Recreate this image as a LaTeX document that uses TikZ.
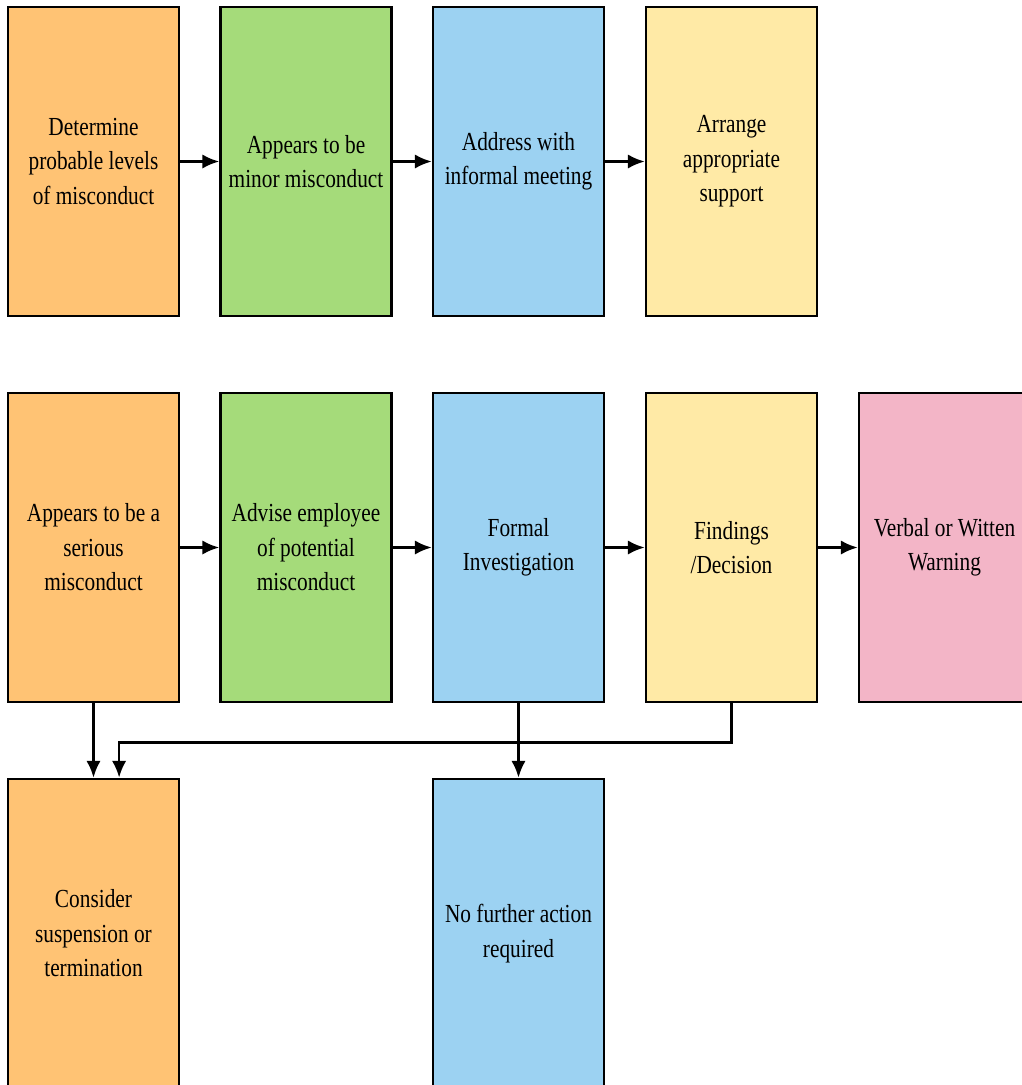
\documentclass[tikz,border=0pt]{standalone}
\usepackage{fontspec}
\setmainfont{Liberation Serif}[FakeStretch=0.82]
\usepackage{tikz}
\usetikzlibrary{arrows.meta,positioning,calc}
\usepackage{xcolor}

\definecolor{boxorange}{RGB}{255,195,116}
\definecolor{boxgreen}{RGB}{165,219,122}
\definecolor{boxblue}{RGB}{156,210,242}
\definecolor{boxyellow}{RGB}{255,234,166}
\definecolor{boxpink}{RGB}{243,181,199}

\begin{document}
\begin{tikzpicture}[x=0.025cm, y=-0.025cm,
    stagebox/.style={draw, line width=1.9pt, minimum width=4.275cm, minimum height=7.725cm,
                     align=center, inner sep=0pt, font=\fontsize{18.5}{24.5}\selectfont},
    flow/.style={line width=1.8pt, -{Latex[length=4.2mm,width=3.6mm]}}]
  \useasboundingbox (0,0) rectangle (1021,1085);

  % first row: minor misconduct
  \node[stagebox, fill=boxorange] (det) at (93.5,161.5) {Determine\\probable levels\\of misconduct};
  \node[stagebox, fill=boxgreen] (minor) at (306,161.5) {Appears to be\\minor misconduct};
  \node[stagebox, fill=boxblue] (informal) at (518.5,161.5) {Address with\\informal meeting};
  \node[stagebox, fill=boxyellow] (support) at (731.5,161.5) {Arrange\\appropriate\\support};

  \draw[flow] (det.east) -- (minor.west);
  \draw[flow] (minor.east) -- (informal.west);
  \draw[flow] (informal.east) -- (support.west);

  % second row: serious misconduct
  \node[stagebox, fill=boxorange] (serious) at (93.5,547.5) {Appears to be a\\serious\\misconduct};
  \node[stagebox, fill=boxgreen] (advise) at (306,547.5) {Advise employee\\of potential\\misconduct};
  \node[stagebox, fill=boxblue] (formal) at (518.5,547.5) {Formal\\Investigation};
  \node[stagebox, fill=boxyellow] (findings) at (731.5,547.5) {Findings\\/Decision};
  \node[stagebox, fill=boxpink] (warning) at (944.5,547.5) {Verbal or Witten\\Warning};

  \draw[flow] (serious.east) -- (advise.west);
  \draw[flow] (advise.east) -- (formal.west);
  \draw[flow] (formal.east) -- (findings.west);
  \draw[flow] (findings.east) -- (warning.west);

  % outcomes
  \node[stagebox, fill=boxorange] (suspend) at (93.5,933.5) {Consider\\suspension or\\termination};
  \node[stagebox, fill=boxblue] (nofurther) at (518.5,933.5) {No further action\\required};

  \coordinate (suspendin) at ([xshift=0.64cm]suspend.north);
  \draw[flow] (serious.south) -- (suspend.north);
  \draw[flow] (findings.south) -- ++(0,39) -| (suspendin);
  \draw[flow] (formal.south) -- (nofurther.north);
\end{tikzpicture}
\end{document}
